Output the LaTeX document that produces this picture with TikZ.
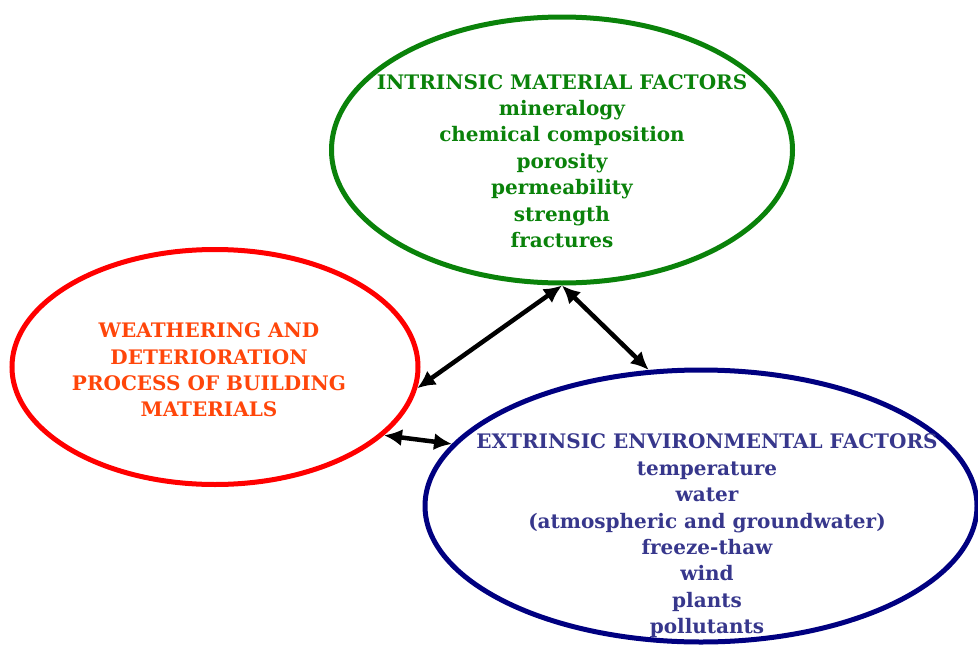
\documentclass[tikz,border=0pt]{standalone}
\usepackage{fontspec}
\setmainfont{DejaVu Serif}
\usetikzlibrary{shapes.geometric,arrows.meta}

\definecolor{intrgreen}{RGB}{10,130,10}
\definecolor{procred}{RGB}{255,0,0}
\definecolor{proctext}{RGB}{255,70,10}
\definecolor{extrblue}{RGB}{0,0,128}
\definecolor{extrtext}{RGB}{55,55,140}

\begin{document}
\begin{tikzpicture}[x=1pt,y=-1pt,
    ring/.style={ellipse,draw,line width=5pt,inner sep=0pt},
    factors/.style={align=center,font=\bfseries\fontsize{20}{26.4}\selectfont},
    link/.style={line width=4.5pt,{Latex[length=18pt,width=17pt]}-{Latex[length=18pt,width=17pt]}}]
  \useasboundingbox (0,0) rectangle (978,648);

  % the three rings
  \node[ring,draw=intrgreen,minimum width=461pt,minimum height=266pt] (intrinsic) at (562,150) {};
  \node[ring,draw=procred,minimum width=406pt,minimum height=235pt] (process) at (215,367) {};
  \node[ring,draw=extrblue,minimum width=552pt,minimum height=272pt] (extrinsic) at (701,506) {};

  % texts
  \node[factors,text=intrgreen] (intrtext) at (562,161)
    {INTRINSIC MATERIAL FACTORS\\ mineralogy\\ chemical composition\\ porosity\\ permeability\\ strength\\ fractures};
  \node[factors,text=proctext] (proctext) at (209,370)
    {WEATHERING AND\\ DETERIORATION\\ PROCESS OF BUILDING\\ MATERIALS};
  \node[factors,text=extrtext] (extrtext) at (707,536)
    {EXTRINSIC ENVIRONMENTAL FACTORS\\ temperature\\ water\\ (atmospheric and groundwater)\\ freeze-thaw\\ wind\\ plants\\ pollutants};

  % links
  \draw[link] (process.-6) -- (intrinsic.south);
  \draw[link] (intrinsic.south) -- (extrinsic.111);
  \draw[link] (process.-22) -- (extrinsic.166);
\end{tikzpicture}
\end{document}
